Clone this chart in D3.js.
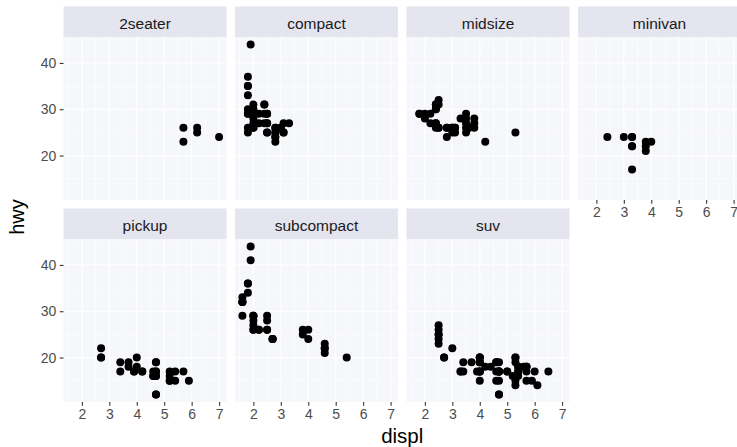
<!DOCTYPE html>
<html>
<head>
<meta charset="utf-8">
<script src="https://cdn.jsdelivr.net/npm/d3@7"></script>
<style>
  html, body { margin: 0; padding: 0; background: #ffffff; }
  svg { display: block; font-family: "Liberation Sans", Arial, Helvetica, sans-serif; }
</style>
</head>
<body>
<svg id="chart" width="737" height="447"></svg>
<script>
// Facet order (vehicle class)
const classes = ["2seater", "compact", "midsize", "minivan", "pickup", "subcompact", "suv"];

// [engine displacement (L), highway mpg] for each class
const twoSeater = [[5.7,26],[5.7,23],[6.2,26],[6.2,25],[7.0,24]];
const compact = [
  [1.8,29],[1.8,29],[2.0,31],[2.0,30],[2.8,26],[2.8,26],[3.1,27],
  [1.8,26],[1.8,25],[2.0,28],[2.0,27],[2.8,25],[2.8,25],[3.1,25],[3.1,25],
  [2.4,29],[2.4,27],[2.5,25],[2.5,27],[2.5,25],[2.5,27],
  [2.2,27],[2.2,29],[2.4,31],[2.4,31],[3.0,26],[3.0,26],[3.3,27],
  [1.8,30],[1.8,33],[1.8,35],[1.8,37],[1.8,35],
  [2.0,29],[2.0,26],[2.0,29],[2.0,29],[2.8,24],
  [1.9,44],[2.0,29],[2.0,26],[2.0,29],[2.0,29],[2.5,29],[2.5,29],[2.8,23],[2.8,24]
];
const midsize = [
  [2.8,24],[3.1,25],[4.2,23],
  [2.4,27],[2.4,30],[3.1,26],[3.5,29],[3.6,26],
  [2.4,26],[2.4,27],[2.4,30],[2.4,31],[2.5,26],[2.5,26],[3.3,28],
  [2.5,31],[2.5,32],[3.5,27],[3.5,26],
  [3.0,26],[3.0,25],[3.5,25],
  [3.1,26],[3.8,26],[3.8,27],[3.8,28],[5.3,25],
  [2.2,29],[2.2,27],[2.4,31],[2.4,31],[3.0,26],[3.0,26],[3.5,28],
  [1.8,29],[1.8,29],[2.0,28],[2.0,29],[2.8,26],[2.8,26],[3.6,26]
];
const minivan = [[2.4,24],[3.0,24],[3.3,22],[3.3,22],[3.3,24],[3.3,24],[3.3,17],[3.8,22],[3.8,21],[3.8,23],[4.0,23]];
const pickup = [
  [3.7,19],[3.7,18],[3.9,17],[3.9,17],[4.7,19],[4.7,19],[4.7,12],[5.2,17],[5.2,15],
  [4.7,16],[4.7,12],[4.7,17],[4.7,17],[4.7,16],[5.2,15],[5.2,16],[5.7,17],[5.9,15],
  [4.2,17],[4.2,17],[4.6,16],[4.6,16],[4.6,17],[5.4,15],[5.4,17],
  [2.7,20],[2.7,20],[2.7,22],[3.4,17],[3.4,19],[4.0,18],[4.0,20]
];
const subcompact = [
  [3.8,26],[3.8,25],[4.0,26],[4.0,24],[4.6,21],[4.6,22],[4.6,23],[4.6,22],[5.4,20],
  [1.6,33],[1.6,32],[1.6,32],[1.6,29],[1.6,32],[1.8,34],[1.8,36],[1.8,36],[2.0,29],
  [2.0,26],[2.0,29],[2.0,28],[2.0,27],[2.7,24],[2.7,24],[2.7,24],
  [2.2,26],[2.2,26],[2.5,26],[2.5,26],
  [1.9,44],[1.9,41],[2.0,29],[2.0,26],[2.5,28],[2.5,29]
];
const suv = [
  [5.3,20],[5.3,15],[5.3,20],[5.7,17],[6.0,17],
  [5.3,19],[5.3,14],[5.7,15],[6.5,17],
  [3.9,17],[4.7,17],[4.7,12],[4.7,17],[5.2,16],[5.7,18],[5.9,15],
  [4.6,17],[5.4,17],[5.4,18],
  [4.0,17],[4.0,19],[4.0,17],[4.0,19],[4.6,19],[5.0,17],
  [3.0,22],[3.7,19],[4.0,20],[4.7,17],[4.7,12],[4.7,19],[5.7,18],[6.1,14],
  [4.0,15],[4.2,18],[4.4,18],[4.6,15],
  [5.4,17],[5.4,16],[5.4,18],
  [4.0,17],[4.0,19],[4.6,19],[5.0,17],
  [3.3,17],[3.3,17],[4.0,20],[5.6,18],
  [2.5,25],[2.5,24],[2.5,27],[2.5,25],[2.5,26],[2.5,23],
  [2.7,20],[2.7,20],[3.4,19],[3.4,17],[4.0,20],[4.7,17],
  [4.7,15],[5.7,18]
];

// Axis breaks
const xTicks = [2, 3, 4, 5, 6, 7];
const yTicks = [20, 30, 40];
const xMinor = [1.5, 2.5, 3.5, 4.5, 5.5, 6.5];
const yMinor = [15, 25, 35, 45];

const series = [twoSeater, compact, midsize, minivan, pickup, subcompact, suv];
const facets = classes.map((name, i) => ({ name, points: series[i] }));

// Shared scales across facets, with 5% expansion
const all = series.flat();
const xExt = d3.extent(all, d => d[0]);
const yExt = d3.extent(all, d => d[1]);
const xPad = (xExt[1] - xExt[0]) * 0.05;
const yPad = (yExt[1] - yExt[0]) * 0.05;

const nCol = 4;
const panelW = 163, panelH = 163, gapX = 8.5, gapY = 8.5, stripH = 30.5;
const originX = 63.5, originY = 6.5;

const x = d3.scaleLinear().domain([xExt[0] - xPad, xExt[1] + xPad]).range([0, panelW]);
const y = d3.scaleLinear().domain([yExt[0] - yPad, yExt[1] + yPad]).range([panelH, 0]);
const fmt = d3.format("d");

const svg = d3.select("#chart");

const panelBg = "#f6f7fb";
const stripBg = "#e4e5ef";

facets.forEach((f, i) => {
  const col = i % nCol, row = Math.floor(i / nCol);
  const gx = originX + col * (panelW + gapX);
  const gy = originY + row * (stripH + panelH + gapY);
  const g = svg.append("g").attr("transform", `translate(${gx},${gy})`);

  // strip
  g.append("rect").attr("width", panelW).attr("height", stripH).attr("fill", stripBg);
  g.append("text")
    .attr("x", panelW / 2).attr("y", stripH / 2 + 1.5)
    .attr("text-anchor", "middle").attr("dominant-baseline", "central")
    .attr("font-size", 15.5).attr("fill", "#1a1a1a")
    .text(f.name);

  const p = g.append("g").attr("transform", `translate(0,${stripH})`);
  p.append("rect").attr("width", panelW).attr("height", panelH).attr("fill", panelBg);

  // minor grid
  p.selectAll(".xm").data(xMinor).join("line")
    .attr("x1", d => x(d)).attr("x2", d => x(d)).attr("y1", 0).attr("y2", panelH)
    .attr("stroke", "#ffffff").attr("stroke-width", 0.6);
  p.selectAll(".ym").data(yMinor).join("line")
    .attr("y1", d => y(d)).attr("y2", d => y(d)).attr("x1", 0).attr("x2", panelW)
    .attr("stroke", "#ffffff").attr("stroke-width", 0.6);
  // major grid
  p.selectAll(".xM").data(xTicks).join("line")
    .attr("x1", d => x(d)).attr("x2", d => x(d)).attr("y1", 0).attr("y2", panelH)
    .attr("stroke", "#ffffff").attr("stroke-width", 1.2);
  p.selectAll(".yM").data(yTicks).join("line")
    .attr("y1", d => y(d)).attr("y2", d => y(d)).attr("x1", 0).attr("x2", panelW)
    .attr("stroke", "#ffffff").attr("stroke-width", 1.2);

  // points
  p.append("g").selectAll("circle").data(f.points).join("circle")
    .attr("cx", d => x(d[0])).attr("cy", d => y(d[1])).attr("r", 4)
    .attr("fill", "#000000");

  // y axis on first column
  if (col === 0) {
    const ay = p.append("g").call(d3.axisLeft(y).tickValues(yTicks).tickFormat(fmt).tickSize(3.7).tickPadding(3.5));
    ay.select(".domain").remove();
    ay.selectAll("line").attr("stroke", "#333333").attr("stroke-width", 1.1);
    ay.selectAll("text").attr("font-size", 14).attr("fill", "#4d4d4d")
      .attr("font-family", "Liberation Sans, Arial, sans-serif");
  }
  // x axis on the lowest panel of each column
  if (i + nCol >= facets.length) {
    const ax = p.append("g").attr("transform", `translate(0,${panelH})`)
      .call(d3.axisBottom(x).tickValues(xTicks).tickFormat(fmt).tickSize(3.7).tickPadding(3));
    ax.select(".domain").remove();
    ax.selectAll("line").attr("stroke", "#333333").attr("stroke-width", 1.1);
    ax.selectAll("text").attr("font-size", 14).attr("fill", "#4d4d4d")
      .attr("font-family", "Liberation Sans, Arial, sans-serif");
  }
});

// axis titles
const plotRight = originX + nCol * panelW + (nCol - 1) * gapX;
svg.append("text")
  .attr("x", (originX + plotRight) / 2).attr("y", 443)
  .attr("text-anchor", "middle").attr("font-size", 20.5).attr("fill", "#000000")
  .text("displ");
svg.append("text")
  .attr("transform", "translate(24,217) rotate(-90)")
  .attr("text-anchor", "middle").attr("font-size", 20).attr("fill", "#000000")
  .text("hwy");
</script>
</body>
</html>
